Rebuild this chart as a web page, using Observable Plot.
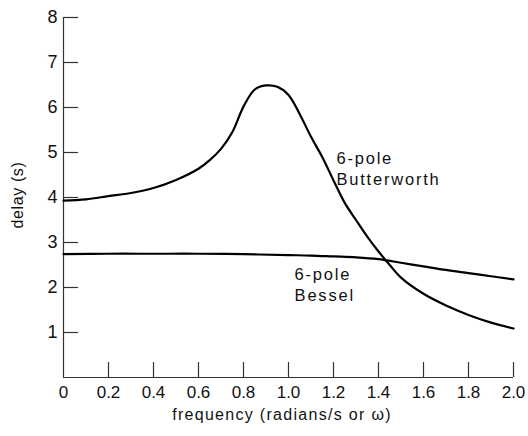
<!DOCTYPE html>
<html><head><meta charset="utf-8">
<script src="https://cdn.jsdelivr.net/npm/d3@7"></script>
<script src="https://cdn.jsdelivr.net/npm/@observablehq/plot@0.6"></script>
<style>
body{margin:0;background:#fff;}
#chart svg{display:block;}
.curvelabel{letter-spacing:1.8px;}
</style>
</head><body><div id="chart"></div>
<script>
// Butterworth 6-pole group delay
const freqButter = [0, 0.1, 0.2, 0.3, 0.4, 0.5, 0.6, 0.65, 0.7, 0.75, 0.8, 0.85, 0.9, 0.95, 1.0, 1.05, 1.1, 1.15, 1.2, 1.25, 1.3, 1.35, 1.4, 1.45, 1.5, 1.6, 1.7, 1.8, 1.9, 2.0];
const delayButter = [3.93, 3.96, 4.03, 4.1, 4.21, 4.39, 4.64, 4.83, 5.08, 5.45, 6.02, 6.4, 6.49, 6.46, 6.28, 5.85, 5.35, 4.9, 4.38, 3.88, 3.5, 3.13, 2.8, 2.5, 2.22, 1.86, 1.6, 1.39, 1.22, 1.09];
// Bessel 6-pole group delay
const freqBessel = [0, 0.2, 0.4, 0.6, 0.8, 1.0, 1.1, 1.2, 1.3, 1.4, 1.5, 1.6, 1.7, 1.8, 1.9, 2.0];
const delayBessel = [2.74, 2.75, 2.75, 2.75, 2.74, 2.72, 2.71, 2.69, 2.67, 2.63, 2.55, 2.47, 2.39, 2.32, 2.25, 2.18];
// ticks
const xTicks = [0.2, 0.4, 0.6, 0.8, 1.0, 1.2, 1.4, 1.6, 1.8, 2.0];
const xTickLabels = [0, 0.2, 0.4, 0.6, 0.8, 1.0, 1.2, 1.4, 1.6, 1.8, 2.0];
const yTicks = [1, 2, 3, 4, 5, 6, 7, 8];
// curve labels
const labelText = ["6-pole\nButterworth", "6-pole\nBessel"];
const labelX = [1.213, 1.027];
const labelY = [4.66, 2.09];

const butter = freqButter.map((f, i) => ({f, d: delayButter[i]}));
const bessel = freqBessel.map((f, i) => ({f, d: delayBessel[i]}));
const labels = labelText.map((t, i) => ({t, x: labelX[i], y: labelY[i]}));

const W = 528, H = 436;
const mL = 63, mR = 15, mT = 17, mB = 59;
const innerW = W - mL - mR, innerH = H - mT - mB;
const font = "'Liberation Sans', Arial, Helvetica, sans-serif";

const chart = Plot.plot({
  width: W, height: H,
  marginLeft: mL, marginRight: mR, marginTop: mT, marginBottom: mB,
  style: {fontFamily: font, background: "#fff", color: "#111"},
  x: {domain: [0, 2], axis: null},
  y: {domain: [0, 8], axis: null},
  marks: [
    Plot.ruleX([0], {stroke: "#333", strokeWidth: 1.2}),
    Plot.ruleY([0], {stroke: "#333", strokeWidth: 1.2}),
    Plot.tickX(xTicks, {x: d => d, insetTop: innerH - 15, stroke: "#333", strokeWidth: 1.2}),
    Plot.tickY(yTicks, {y: d => d, insetRight: innerW - 15, stroke: "#333", strokeWidth: 1.2}),
    Plot.axisY(yTicks, {tickSize: 0, tickPadding: 6, fontSize: 18, label: null, anchor: "left", fill: "#111"}),
    Plot.axisX(xTickLabels, {tickSize: 0, tickPadding: 8, fontSize: 17, label: null, anchor: "bottom",
      tickFormat: d => d === 0 ? "0" : d.toFixed(1), fill: "#111"}),
    Plot.line(butter, {x: "f", y: "d", curve: "catmull-rom", stroke: "#000", strokeWidth: 2.2}),
    Plot.line(bessel, {x: "f", y: "d", curve: "catmull-rom", stroke: "#000", strokeWidth: 2.2}),
    Plot.text(labels, {x: "x", y: "y", text: "t", textAnchor: "start", lineAnchor: "middle", lineHeight: 1.28,
      fontSize: 16.5, fill: "#111", className: "curvelabel"})
  ]
});

// axis titles
const svg = d3.select(chart);
svg.append("text")
  .attr("x", 282).attr("y", 420)
  .attr("text-anchor", "middle")
  .style("font-family", font).style("font-size", "16px").style("letter-spacing", "1.3px")
  .attr("fill", "#111")
  .text("frequency (radians/s or ω)");
svg.append("text")
  .attr("transform", "translate(23,195) rotate(-90)")
  .attr("text-anchor", "middle")
  .style("font-family", font).style("font-size", "16px").style("letter-spacing", "0.6px")
  .attr("fill", "#111")
  .text("delay (s)");

document.getElementById("chart").appendChild(chart);
</script>
</body></html>
